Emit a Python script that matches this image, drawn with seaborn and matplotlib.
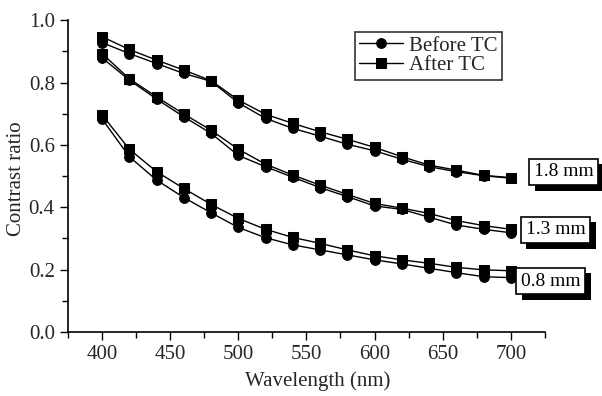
import matplotlib
matplotlib.use("Agg")
import matplotlib.pyplot as plt
import matplotlib.patheffects as pe
from matplotlib.ticker import MultipleLocator, FormatStrFormatter
import seaborn as sns
import pandas as pd

# wavelengths sampled every 20 nm
wavelength = [400, 420, 440, 460, 480, 500, 520, 540, 560, 580, 600, 620, 640, 660, 680, 700]

# contrast ratio, per thickness
before_18 = [0.928, 0.893, 0.861, 0.829, 0.804, 0.735, 0.685, 0.653, 0.628, 0.602, 0.581, 0.554, 0.530, 0.514, 0.501, 0.493]
after_18 = [0.947, 0.906, 0.872, 0.840, 0.806, 0.744, 0.698, 0.669, 0.642, 0.618, 0.592, 0.562, 0.535, 0.519, 0.502, 0.495]
before_13 = [0.879, 0.808, 0.747, 0.690, 0.637, 0.566, 0.530, 0.496, 0.463, 0.434, 0.404, 0.393, 0.368, 0.343, 0.329, 0.318]
after_13 = [0.893, 0.812, 0.754, 0.699, 0.647, 0.586, 0.538, 0.503, 0.471, 0.441, 0.412, 0.397, 0.380, 0.357, 0.341, 0.329]
before_08 = [0.683, 0.562, 0.487, 0.431, 0.382, 0.335, 0.302, 0.279, 0.263, 0.247, 0.231, 0.218, 0.204, 0.190, 0.177, 0.174]
after_08 = [0.696, 0.586, 0.514, 0.460, 0.409, 0.364, 0.329, 0.303, 0.284, 0.263, 0.244, 0.231, 0.220, 0.207, 0.199, 0.196]

thickness_labels = ["1.8 mm", "1.3 mm", "0.8 mm"]
conditions = ["Before TC", "After TC"]

series = {
    ("1.8 mm", "Before TC"): before_18,
    ("1.8 mm", "After TC"): after_18,
    ("1.3 mm", "Before TC"): before_13,
    ("1.3 mm", "After TC"): after_13,
    ("0.8 mm", "Before TC"): before_08,
    ("0.8 mm", "After TC"): after_08,
}

rows = []
for (thick, cond), vals in series.items():
    for w, v in zip(wavelength, vals):
        rows.append({"Thickness": thick, "Condition": cond, "Wavelength": w, "Contrast": v})
df = pd.DataFrame(rows)

sns.set_style("ticks")
plt.rcParams["font.family"] = ["Liberation Serif", "DejaVu Serif"]

fig = plt.figure(figsize=(6.02, 3.96), dpi=100)
ax = fig.add_axes([0.113, 0.162, 0.792, 0.787])

sns.lineplot(data=df, x="Wavelength", y="Contrast", style="Condition", units="Thickness",
             estimator=None, markers={"Before TC": "o", "After TC": "s"}, dashes=False,
             color="black", linewidth=1.0, markersize=7, markeredgecolor="black",
             style_order=conditions, ax=ax)

ax.set_xlim(375, 725)
ax.set_ylim(0, 1.0)
ax.xaxis.set_major_locator(MultipleLocator(50))
ax.xaxis.set_minor_locator(MultipleLocator(25))
ax.yaxis.set_major_locator(MultipleLocator(0.2))
ax.yaxis.set_minor_locator(MultipleLocator(0.1))
ax.yaxis.set_major_formatter(FormatStrFormatter("%.1f"))
ax.tick_params(which="major", direction="out", length=6, width=1, labelsize=15, color="black")
ax.tick_params(which="minor", direction="out", length=4, width=1, color="black")
for s in ["left", "bottom"]:
    ax.spines[s].set_linewidth(1.2)
    ax.spines[s].set_color("black")
sns.despine(ax=ax)

ax.set_xlabel("Wavelength (nm)", fontsize=15)
ax.set_ylabel("Contrast ratio", fontsize=15)
ax.xaxis.set_label_coords(0.524, -0.125)
ax.yaxis.set_label_coords(-0.088, 0.49)

leg = ax.legend(loc="upper left", bbox_to_anchor=(0.602, 0.962), fontsize=15, frameon=True,
                fancybox=False, edgecolor="black", handlelength=2.1, borderpad=0.2,
                labelspacing=0.0, handletextpad=0.3, borderaxespad=0, title=None)
leg.get_frame().set_linewidth(1.2)

# thickness labels with drop-shadow boxes
label_y = {"1.8 mm": 0.513, "1.3 mm": 0.327, "0.8 mm": 0.163}
label_x = {"1.8 mm": 0.977, "1.3 mm": 0.960, "0.8 mm": 0.950}
for thick in thickness_labels:
    t = ax.text(label_x[thick], label_y[thick], thick, transform=ax.get_yaxis_transform(),
                fontsize=14, color="black", va="center", ha="left", clip_on=False,
                bbox=dict(boxstyle="square,pad=0.25", fc="white", ec="black", lw=1.2))
    t.get_bbox_patch().set_path_effects([
        pe.SimplePatchShadow(offset=(4, -4), shadow_rgbFace="black", alpha=1.0),
        pe.Normal()])

fig.savefig("out.png", dpi=100)
